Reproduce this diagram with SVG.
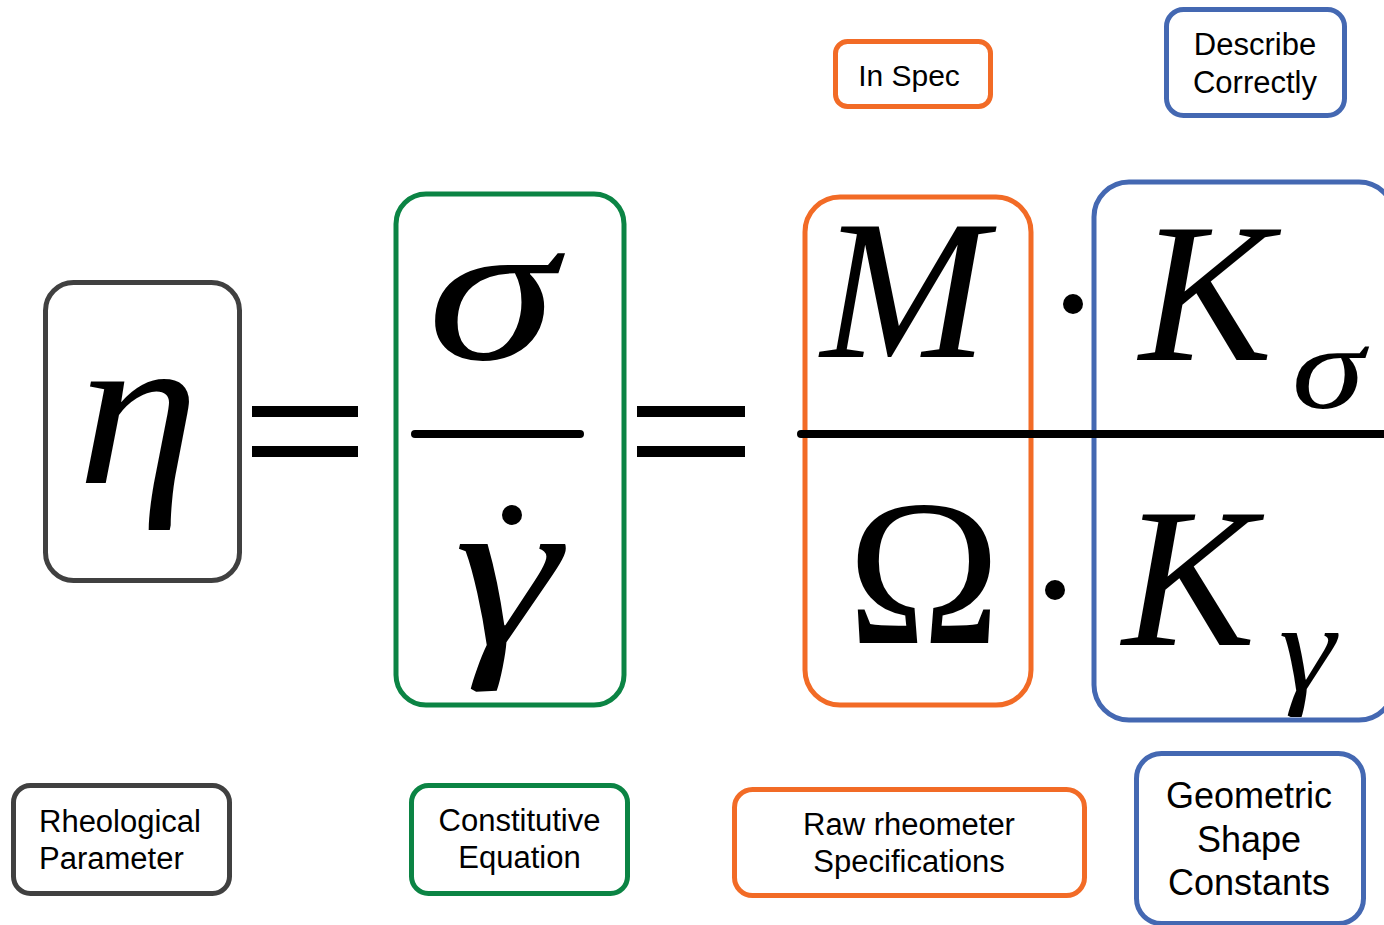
<svg xmlns="http://www.w3.org/2000/svg" width="1384" height="925" viewBox="0 0 1384 925">
<style>
.box{fill:none;stroke-width:5}
.gray{stroke:#404040}
.green{stroke:#0B8444}
.orange{stroke:#F26B26}
.blue{stroke:#4468B2}
.lbl{font-family:"Liberation Sans",Arial,sans-serif;font-size:31px;fill:#000}
.big{font-size:36px}
.sm{font-size:30px}
.mid{text-anchor:middle}
.math{font-family:"Liberation Serif","Times New Roman",serif;font-style:italic;fill:#000;text-anchor:middle}
.up{font-family:"Liberation Serif","Times New Roman",serif;fill:#000;text-anchor:middle}
.bar{stroke:#000;stroke-width:8;stroke-linecap:round}
</style>
<rect width="1384" height="925" fill="#fff"/>

<g id="formula">
  <g id="eta-box">
    <rect class="box gray" x="45.5" y="282.5" width="194" height="298" rx="28"/>
    <text class="math" font-size="220" transform="translate(138,483) scale(1.12,1)">η</text>
  </g>
  <g id="equals-1">
    <rect x="252" y="406" width="106" height="11" fill="#000"/>
    <rect x="252" y="446" width="106" height="11" fill="#000"/>
  </g>
  <g id="constitutive-box">
    <rect class="box green" x="396" y="194" width="228" height="511" rx="30"/>
    <text class="math" font-size="205" transform="translate(492,359) scale(1.28,1)">σ</text>
    <line class="bar" x1="415" y1="434" x2="580" y2="434"/>
    <text class="math" font-size="220" transform="translate(507,645) scale(1.22,1)">γ</text>
    <circle cx="512" cy="515" r="10" fill="#000"/>
  </g>
  <g id="equals-2">
    <rect x="637" y="406" width="108" height="11" fill="#000"/>
    <rect x="637" y="446" width="108" height="11" fill="#000"/>
  </g>
  <g id="spec-box">
    <rect class="box orange" x="805" y="197" width="226" height="508" rx="35"/>
    <text class="math" x="904" y="357" font-size="200">M</text>
    <text class="up" x="924" y="643" font-size="207">Ω</text>
  </g>
  <g id="dots">
    <circle cx="1073" cy="304" r="10" fill="#000"/>
    <circle cx="1055" cy="590" r="10" fill="#000"/>
  </g>
  <g id="shape-box">
    <rect class="box blue" x="1094" y="182" width="300" height="538" rx="35"/>
    <text class="math" x="1206" y="360" font-size="200">K</text>
    <text class="math" font-size="118" transform="translate(1328,408) scale(1.25,1)">σ</text>
    <text class="math" x="1189" y="645" font-size="200">K</text>
    <text class="math" font-size="125" transform="translate(1307,690) scale(1.15,1)">γ</text>
  </g>
  <line class="bar" x1="801" y1="434" x2="1390" y2="434"/>
</g>

<g id="connectors"></g>

<g id="label-rheological">
  <rect class="box gray" x="13.5" y="785.5" width="216" height="108" rx="17"/>
  <text class="lbl" x="39" y="832">Rheological</text>
  <text class="lbl" x="39" y="869">Parameter</text>
</g>
<g id="label-constitutive">
  <rect class="box green" x="411.5" y="785.5" width="216" height="108" rx="17"/>
  <text class="lbl mid" x="519.5" y="831">Constitutive</text>
  <text class="lbl mid" x="519.5" y="868">Equation</text>
</g>
<g id="label-raw">
  <rect class="box orange" x="734.5" y="789.5" width="350" height="106" rx="18"/>
  <text class="lbl mid" x="909" y="835">Raw rheometer</text>
  <text class="lbl mid" x="909" y="872">Specifications</text>
</g>
<g id="label-geometric">
  <rect class="box blue" x="1136.5" y="753.5" width="227" height="170" rx="25"/>
  <text class="lbl big mid" x="1249" y="808">Geometric</text>
  <text class="lbl big mid" x="1249" y="852">Shape</text>
  <text class="lbl big mid" x="1249" y="895">Constants</text>
</g>
<g id="label-inspec">
  <rect class="box orange" x="835.5" y="41.5" width="155" height="65" rx="12"/>
  <text class="lbl sm mid" x="909" y="86">In Spec</text>
</g>
<g id="label-describe">
  <rect class="box blue" x="1166.5" y="9.5" width="178" height="106" rx="17"/>
  <text class="lbl mid" x="1255" y="55">Describe</text>
  <text class="lbl mid" x="1255" y="93">Correctly</text>
</g>
</svg>
